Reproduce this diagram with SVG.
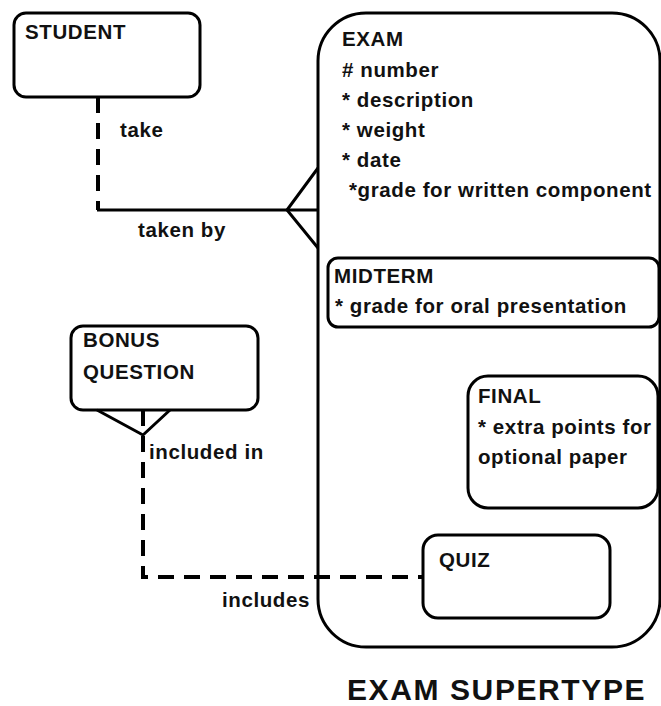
<svg xmlns="http://www.w3.org/2000/svg" width="661" height="706" viewBox="0 0 661 706">
  <style>
    .box { fill: none; stroke: #000; stroke-width: 3; }
    .t { font-family: "Liberation Sans", Arial, sans-serif; font-weight: bold; font-size: 20.5px; letter-spacing: 0.6px; fill: #111; }
    .title { font-family: "Liberation Sans", Arial, sans-serif; font-weight: bold; font-size: 30px; letter-spacing: 1.6px; fill: #111; }
    .solid { fill: none; stroke: #000; stroke-width: 3; }
    .dash { fill: none; stroke: #000; stroke-width: 4; stroke-dasharray: 16 10; }
  </style>
  <rect width="661" height="706" fill="#fff"/>

  <g id="student">
    <rect class="box" x="14" y="13" width="186" height="84" rx="12"/>
    <text class="t" x="25" y="39">STUDENT</text>
  </g>

  <g id="exam">
    <rect class="box" x="318" y="13" width="342" height="634" rx="48"/>
    <text class="t" x="342" y="46">EXAM</text>
    <text class="t" x="342" y="77"># number</text>
    <text class="t" x="342" y="107">* description</text>
    <text class="t" x="342" y="137">* weight</text>
    <text class="t" x="342" y="167">* date</text>
    <text class="t" x="349" y="197">*grade for written component</text>
  </g>

  <g id="midterm">
    <rect class="box" x="328" y="258" width="331" height="69" rx="10"/>
    <text class="t" x="334" y="283">MIDTERM</text>
    <text class="t" x="335" y="313">* grade for oral presentation</text>
  </g>

  <g id="final">
    <rect class="box" x="468" y="376" width="190" height="132" rx="20"/>
    <text class="t" x="478" y="403">FINAL</text>
    <text class="t" x="478" y="434">* extra points for</text>
    <text class="t" x="478" y="464">optional paper</text>
  </g>

  <g id="quiz">
    <rect class="box" x="423" y="535" width="187" height="83" rx="15"/>
    <text class="t" x="439" y="567">QUIZ</text>
  </g>

  <g id="bonus-question">
    <rect class="box" x="71" y="326" width="187" height="84" rx="12"/>
    <text class="t" x="83" y="347">BONUS</text>
    <text class="t" x="83" y="379">QUESTION</text>
  </g>

  <g id="connectors">
    <!-- student takes exam -->
    <path class="dash" d="M98,97 V210"/>
    <path class="solid" d="M97,210 H318"/>
    <path class="solid" d="M318,168 L287,210 L318,248"/>
    <text class="t" x="120" y="137">take</text>
    <text class="t" x="138" y="237">taken by</text>
    <!-- bonus question included in quiz -->
    <path class="solid" d="M97,410 L143,435 L170,410"/>
    <path class="dash" d="M143,410 V577 H423"/>
    <text class="t" x="149" y="459">included in</text>
    <text class="t" x="222" y="607">includes</text>
  </g>

  <text class="title" x="347" y="700">EXAM SUPERTYPE</text>
</svg>
